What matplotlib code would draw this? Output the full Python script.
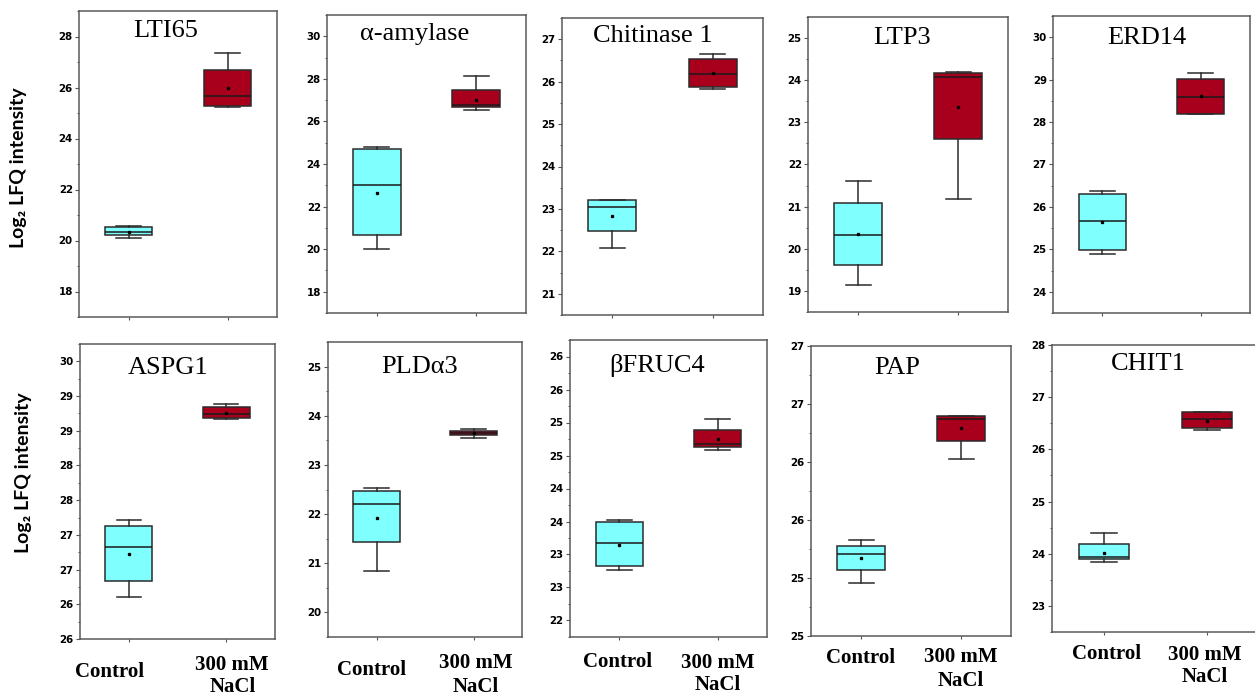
import numpy as np
import matplotlib
matplotlib.use('Agg')
import matplotlib.pyplot as plt
from matplotlib.ticker import MultipleLocator, FormatStrFormatter

# proteins, one panel each
genes = ['LTI65', 'α-amylase', 'Chitinase 1', 'LTP3', 'ERD14',
         'ASPG1', 'PLDα3', 'βFRUC4', 'PAP', 'CHIT1']
groups = ['Control', '300 mM\nNaCl']

# box stats (log2 LFQ intensity)
ctrl_whislo = [20.10, 20.00, 22.08, 19.14, 24.89, 26.61, 20.84, 23.27, 25.46, 23.85]
ctrl_q1 = [20.20, 20.66, 22.48, 19.62, 24.99, 26.84, 21.44, 23.33, 25.57, 23.89]
ctrl_med = [20.35, 23.00, 23.04, 20.33, 25.66, 27.32, 22.21, 23.68, 25.71, 23.94]
ctrl_q3 = [20.51, 24.72, 23.21, 21.08, 26.31, 27.63, 22.47, 24.00, 25.78, 24.18]
ctrl_whishi = [20.57, 24.78, 23.21, 21.61, 26.37, 27.71, 22.54, 24.02, 25.83, 24.39]
ctrl_mean = [20.33, 22.66, 22.84, 20.35, 25.65, 27.23, 21.93, 23.65, 25.67, 24.02]

nacl_whislo = [25.23, 26.53, 25.83, 21.18, 28.18, 29.17, 23.55, 25.09, 26.53, 26.37]
nacl_q1 = [25.27, 26.67, 25.87, 22.61, 28.20, 29.18, 23.60, 25.13, 26.68, 26.40]
nacl_med = [25.67, 26.78, 26.18, 24.08, 28.59, 29.24, 23.64, 25.18, 26.87, 26.58]
nacl_q3 = [26.67, 27.49, 26.54, 24.16, 29.02, 29.34, 23.70, 25.38, 26.90, 26.72]
nacl_whishi = [27.36, 28.13, 26.66, 24.19, 29.16, 29.39, 23.73, 25.56, 26.90, 26.72]
nacl_mean = [25.97, 27.03, 26.20, 23.36, 28.62, 29.25, 23.65, 25.25, 26.79, 26.55]

# axis ranges and tick steps per panel
ylims = [(17, 29), (17, 31), (20.5, 27.5), (18.5, 25.5), (23.5, 30.5),
         (26, 30.25), (19.5, 25.5), (22.25, 26.75), (25, 27.5), (22.5, 28)]
ysteps = [2, 2, 1, 1, 1, 0.5, 1, 0.5, 0.5, 1]

# layout: panel boxes in pixels (left, top, right, bottom) of the 1255x695 image
W, H = 1255, 695
boxes = [(79, 11, 277, 317), (327, 15, 526, 313), (562, 18, 763, 315),
         (808, 17, 1008, 312), (1053, 16, 1250, 313),
         (80, 344, 275, 639), (328, 342, 522, 637), (570, 340, 767, 637),
         (811, 346, 1011, 636), (1052, 345, 1259, 632)]
title_xy = [(0.44, 0.915), (0.44, 0.916), (0.45, 0.918), (0.47, 0.91), (0.478, 0.907),
            (0.45, 0.90), (0.47, 0.895), (0.44, 0.893), (0.43, 0.902), (0.463, 0.913)]
# offsets in pixels for the group labels: (dx ctrl, dy ctrl, dx nacl, dy nacl)
lab_off = [None] * 5 + [(-19, 33, 6, 37), (-5, 33, 2, 38), (-2, 25, 0, 37),
                        (0, 22, 0, 33), (3, 22, -2, 34)]

cyan = '#80ffff'
red = '#a8001c'
edge = '#2b2b2b'

fig = plt.figure(figsize=(W / 100, H / 100), dpi=100)

for i, gene in enumerate(genes):
    l, t, r, b = boxes[i]
    ax = fig.add_axes([l / W, 1 - b / H, (r - l) / W, (b - t) / H])
    stats = [
        dict(whislo=ctrl_whislo[i], q1=ctrl_q1[i], med=ctrl_med[i], q3=ctrl_q3[i],
             whishi=ctrl_whishi[i], mean=ctrl_mean[i], fliers=[]),
        dict(whislo=nacl_whislo[i], q1=nacl_q1[i], med=nacl_med[i], q3=nacl_q3[i],
             whishi=nacl_whishi[i], mean=nacl_mean[i], fliers=[]),
    ]
    bp = ax.bxp(stats, positions=[1, 2], widths=0.48, capwidths=0.25,
                patch_artist=True, showmeans=True, showfliers=False,
                manage_ticks=False,
                boxprops=dict(edgecolor=edge, linewidth=1.1),
                whiskerprops=dict(color=edge, linewidth=1.1),
                capprops=dict(color=edge, linewidth=1.1),
                medianprops=dict(color='#1a1a1a', linewidth=1.1),
                meanprops=dict(marker='s', markersize=1.4, markerfacecolor='black',
                               markeredgecolor='black'))
    for patch, c in zip(bp['boxes'], [cyan, red]):
        patch.set_facecolor(c)

    ax.set_xlim(0.5, 2.5)
    ax.set_ylim(*ylims[i])
    ax.yaxis.set_major_locator(MultipleLocator(ysteps[i]))
    ax.yaxis.set_minor_locator(MultipleLocator(ysteps[i] / 2))
    ax.yaxis.set_major_formatter(FormatStrFormatter('%d'))
    ax.set_xticks([1, 2])
    ax.set_xticklabels([])
    ax.tick_params(axis='y', which='major', direction='out', length=3, width=0.8,
                   color='#555555', pad=1.5, labelsize=7.4)
    ax.tick_params(axis='y', which='minor', direction='out', length=1.8, width=0.7,
                   color='#555555')
    ax.tick_params(axis='x', direction='out', length=2.5, width=0.8, color='#555555')
    for lab in ax.get_yticklabels():
        lab.set_fontweight('bold')
        lab.set_family('DejaVu Sans')
    for sp in ax.spines.values():
        sp.set_color('#5a5a5a')
        sp.set_linewidth(1.1)

    ax.text(title_xy[i][0], title_xy[i][1], gene, transform=ax.transAxes,
            ha='center', va='baseline', fontsize=19, family='Liberation Serif')

    if lab_off[i] is not None:
        dxc, dyc, dxn, dyn = lab_off[i]
        for pos, g, dx, dy in zip([1, 2], groups, [dxc, dxn], [dyc, dyn]):
            ax.annotate(g, xy=(pos, 0), xycoords=ax.get_xaxis_transform(),
                        xytext=(dx, -dy), textcoords='offset pixels',
                        ha='center', va='center', fontsize=15, fontweight='bold',
                        family='Liberation Serif', annotation_clip=False)

for yc, xc in [(168, 19), (473, 24)]:
    fig.text(xc / W, 1 - yc / H, 'Log₂ LFQ intensity', rotation=90,
             ha='center', va='center', fontsize=14, fontweight='bold',
             family=['Lato', 'DejaVu Sans'])

fig.savefig('out.png', dpi=100)
